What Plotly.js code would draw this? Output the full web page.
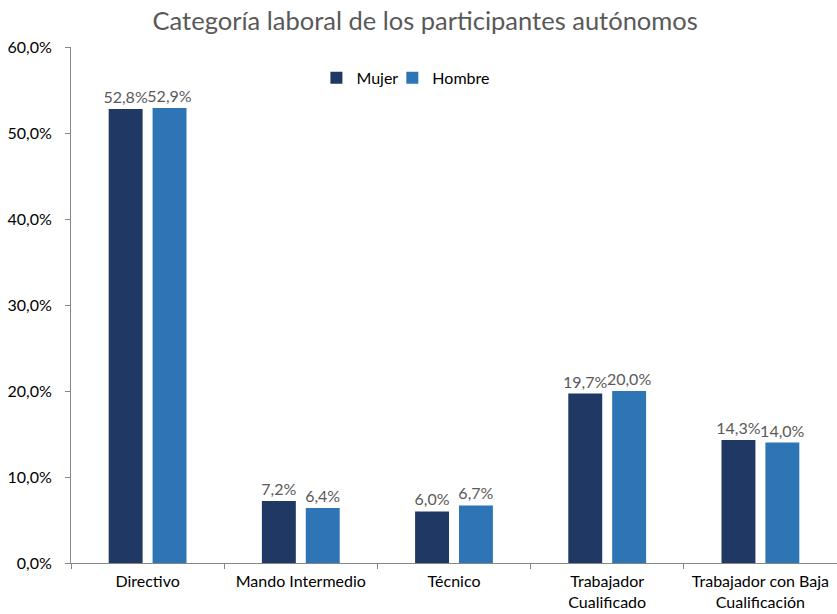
<!DOCTYPE html>
<html>
<head>
<meta charset="utf-8">
<script src="https://cdn.plot.ly/plotly-3.0.1.min.js"></script>
<style>html,body{margin:0;padding:0;background:#fff;}#chart{width:837px;height:614px;}</style>
</head>
<body>
<div id="chart"></div>
<script>
const categories = ["Directivo", "Mando Intermedio", "Técnico", "Trabajador<br>Cualificado", "Trabajador con Baja<br>Cualificación"];
const mujer = [52.8, 7.2, 6.0, 19.7, 14.3];
const hombre = [52.9, 6.4, 6.7, 20.0, 14.0];
const seriesNames = ["Mujer", "Hombre"];

const fontFam = "Lato, 'Open Sans', sans-serif";
const labelFont = {family: fontFam, size: 16, color: "#595959"};

const traces = [
  {type: "bar", name: seriesNames[0], x: categories, y: mujer, marker: {color: "#1F3864"}, legend: "legend",
   texttemplate: "%{y:.1f}%", textposition: "outside", constraintext: "none", textfont: labelFont, cliponaxis: false, hoverinfo: "none"},
  {type: "bar", name: seriesNames[1], x: categories, y: hombre, marker: {color: "#2E75B6"}, legend: "legend2",
   texttemplate: "%{y:.1f}%", textposition: "outside", constraintext: "none", textfont: labelFont, cliponaxis: false, hoverinfo: "none"}
];

const legendBase = {orientation: "h", xanchor: "left", y: 0.94, yanchor: "middle",
  font: {family: fontFam, size: 16, color: "#000"}, bgcolor: "rgba(0,0,0,0)", itemwidth: 30};

const layout = {
  width: 837, height: 614,
  margin: {l: 71, r: 0, t: 47, b: 51},
  paper_bgcolor: "#fff", plot_bgcolor: "#fff",
  separators: ",.",
  font: {family: fontFam, size: 16, color: "#000"},
  title: {text: "Categoría laboral de los participantes autónomos", font: {family: fontFam, size: 25.5, color: "#595959"},
          xref: "container", x: 0.508, xanchor: "center", yref: "container", y: 0.965, yanchor: "middle"},
  barmode: "group", bargap: 0.427, bargroupgap: 0.227,
  showlegend: true,
  legend: Object.assign({}, legendBase, {x: 0.3204}),
  legend2: Object.assign({}, legendBase, {x: 0.4195}),
  xaxis: {type: "category", showline: true, linecolor: "#868686", linewidth: 1,
          ticks: "outside", tickson: "boundaries", ticklen: 5, tickcolor: "#868686", ticklabelstandoff: 4,
          showgrid: false, zeroline: false, tickfont: {family: fontFam, size: 16, color: "#000"}},
  yaxis: {range: [0, 60], dtick: 10, tickformat: ".1f", ticksuffix: "%", showline: true, linecolor: "#868686", linewidth: 1,
          ticks: "outside", ticklen: 5, tickcolor: "#868686", ticklabelstandoff: 10, showgrid: false, zeroline: false,
          tickfont: {family: fontFam, size: 16, color: "#000"}}
};

Plotly.newPlot("chart", traces, layout, {displayModeBar: false, staticPlot: true});
</script>
</body>
</html>
